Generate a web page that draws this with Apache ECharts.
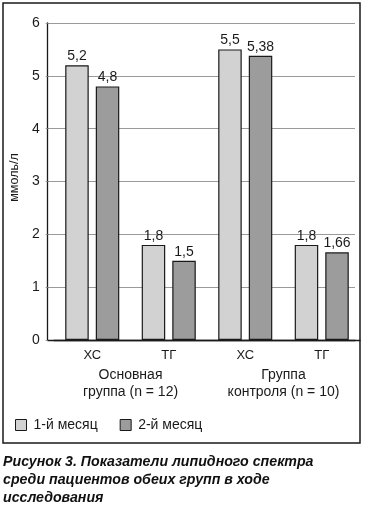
<!DOCTYPE html>
<html>
<head>
<meta charset="utf-8">
<script src="https://cdn.jsdelivr.net/npm/echarts@6/dist/echarts.min.js"></script>
<style>
html,body{margin:0;padding:0;background:#fff;}
#chart{width:366px;height:506px;}
</style>
</head>
<body>
<div id="chart"></div>
<script>
const categories = ['ХС', 'ТГ', 'ХС', 'ТГ'];
const groupLabels = ['Основная\nгруппа (n = 12)', 'Группа\nконтроля (n = 10)'];
const seriesNames = ['1-й месяц', '2-й месяц'];
const month1 = [5.2, 1.8, 5.5, 1.8];
const month2 = [4.8, 1.5, 5.38, 1.66];
const yTicks = [0, 1, 2, 3, 4, 5, 6];
const yAxisName = 'ммоль/л';
const caption = 'Рисунок 3. Показатели липидного спектра\nсреди пациентов обеих групп в ходе\nисследования';

const FONT = '"Liberation Sans", Arial, sans-serif';
const TXT = '#1a1a1a';
const fmt = p => String(p.value).replace('.', ',');

const chart = echarts.init(document.getElementById('chart'), null, {renderer: 'canvas'});
chart.setOption({
  animation: false,
  textStyle: {fontFamily: FONT},
  title: {
    text: caption,
    left: 3, top: 453, padding: 0,
    textStyle: {fontFamily: FONT, fontSize: 14.2, fontWeight: 'bold', fontStyle: 'italic', color: '#111', lineHeight: 18}
  },
  graphic: [{
    type: 'rect', z: 100, silent: true,
    shape: {x: 3, y: 3, width: 357, height: 440},
    style: {fill: 'none', stroke: '#1a1a1a', lineWidth: 1.5}
  }],
  legend: {
    data: seriesNames,
    left: 10, top: 413,
    itemWidth: 11, itemHeight: 11, itemGap: 22,
    icon: 'rect',
    itemStyle: {borderColor: '#1a1a1a', borderWidth: 1},
    textStyle: {fontFamily: FONT, fontSize: 14, color: TXT, padding: [0, 0, 0, 2]}
  },
  grid: [
    {left: 42, right: 11, top: 23, bottom: 166},
    {left: 54, right: 6, top: 23, bottom: 166}
  ],
  xAxis: [
    {type: 'value', gridIndex: 0, min: 0, max: 1,
     axisLine: {show: true, lineStyle: {color: '#1a1a1a', width: 1.3}},
     axisTick: {show: false}, axisLabel: {show: false}, splitLine: {show: false}},
    {type: 'category', gridIndex: 1, data: categories,
     axisLine: {show: true, lineStyle: {color: '#1a1a1a', width: 1.3}},
     axisTick: {show: false},
     axisLabel: {fontFamily: FONT, fontSize: 13, color: TXT, margin: 9}},
    {type: 'category', gridIndex: 1, data: groupLabels, position: 'bottom',
     axisLine: {show: false}, axisTick: {show: false},
     axisLabel: {fontFamily: FONT, fontSize: 14, color: TXT, margin: 27, lineHeight: 17}}
  ],
  yAxis: [
    {type: 'value', gridIndex: 0, min: yTicks[0], max: yTicks[yTicks.length - 1], interval: 1,
     name: yAxisName, nameLocation: 'middle', nameGap: 19, nameRotate: 90,
     nameTextStyle: {fontFamily: FONT, fontSize: 12.5, color: TXT, padding: [0, 0, 0, 8]},
     axisLine: {show: true, lineStyle: {color: '#1a1a1a', width: 1.3}},
     axisTick: {show: true, length: 2, lineStyle: {color: '#999'}},
     axisLabel: {fontFamily: FONT, fontSize: 14, color: TXT, margin: 8},
     splitLine: {show: true, lineStyle: {color: '#9a9a9a', width: 1}}},
    {type: 'value', gridIndex: 1, min: yTicks[0], max: yTicks[yTicks.length - 1], interval: 1, show: false,
     splitLine: {show: false}}
  ],
  series: [
    {name: seriesNames[0], type: 'bar', xAxisIndex: 1, yAxisIndex: 1, data: month1,
     barWidth: 23.5, barGap: '30%',
     itemStyle: {color: '#d2d2d2', borderColor: '#1a1a1a', borderWidth: 1.2},
     label: {show: true, position: 'top', distance: 2, formatter: fmt, fontFamily: FONT, fontSize: 14, color: TXT}},
    {name: seriesNames[1], type: 'bar', xAxisIndex: 1, yAxisIndex: 1, data: month2,
     barWidth: 23.5, barGap: '30%',
     itemStyle: {color: '#9c9c9c', borderColor: '#1a1a1a', borderWidth: 1.2},
     label: {show: true, position: 'top', distance: 2, formatter: fmt, fontFamily: FONT, fontSize: 14, color: TXT}}
  ]
});
</script>
</body>
</html>
